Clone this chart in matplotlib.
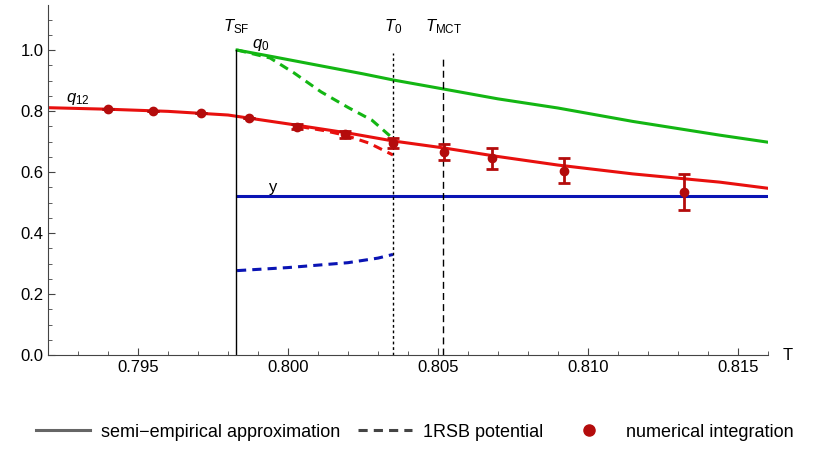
import matplotlib.pyplot as plt
import numpy as np
from matplotlib.lines import Line2D

plt.rcParams['font.family'] = 'Liberation Sans'
plt.rcParams['mathtext.fontset'] = 'custom'
plt.rcParams['mathtext.rm'] = 'Liberation Sans'
plt.rcParams['mathtext.it'] = 'Liberation Sans:italic'

# data
T_SF, T_0, T_MCT = 0.79827, 0.8035, 0.80518

q12_T = [0.792, 0.794, 0.796, 0.798, 0.800, 0.802, 0.8035, 0.8052, 0.807, 0.809, 0.8115, 0.8144, 0.816]
q12_v = [0.811, 0.806, 0.799, 0.787, 0.758, 0.728, 0.702, 0.679, 0.651, 0.623, 0.594, 0.567, 0.547]

q12_rsb_T = [0.8004, 0.8012, 0.8019, 0.8027, 0.8035]
q12_rsb_v = [0.749, 0.736, 0.721, 0.695, 0.656]

q0_T = [0.7983, 0.7995, 0.801, 0.8025, 0.8035, 0.8052, 0.807, 0.809, 0.8115, 0.8144, 0.816]
q0_v = [1.000, 0.978, 0.950, 0.922, 0.902, 0.872, 0.840, 0.810, 0.766, 0.721, 0.698]

q0_rsb_T = [0.7983, 0.7994, 0.8002, 0.8011, 0.8020, 0.8028, 0.8035]
q0_rsb_v = [1.000, 0.974, 0.925, 0.863, 0.812, 0.770, 0.710]

y_T = [0.7983, 0.816]
y_v = [0.523, 0.523]

y_rsb_T = [0.7983, 0.800, 0.802, 0.803, 0.8035]
y_rsb_v = [0.277, 0.287, 0.303, 0.318, 0.330]

pts_T = [0.7940, 0.7955, 0.7971, 0.7987, 0.8003, 0.8019, 0.8035, 0.8052, 0.8068, 0.8092, 0.8132]
pts_v = [0.806, 0.800, 0.793, 0.776, 0.749, 0.724, 0.695, 0.667, 0.645, 0.604, 0.535]
pts_e = [0.0, 0.0, 0.0, 0.0, 0.008, 0.011, 0.016, 0.026, 0.034, 0.041, 0.059]

red, green, blue, dred = '#e8100e', '#13b613', '#0a14b4', '#b40c0c'

fig = plt.figure(figsize=(8.3, 4.71), dpi=100)
ax = fig.add_axes([0.058, 0.246, 0.867, 0.743])

ax.plot(q0_T, q0_v, color=green, lw=2.2)
ax.plot(q0_rsb_T, q0_rsb_v, color=green, lw=2.2, ls=(0, (3, 2)))
ax.plot(q12_T, q12_v, color=red, lw=2.2)
ax.plot(q12_rsb_T, q12_rsb_v, color=red, lw=2.2, ls=(0, (3, 2)))
ax.plot(y_T, y_v, color=blue, lw=2.2)
ax.plot(y_rsb_T, y_rsb_v, color=blue, lw=2.2, ls=(0, (3, 2)))
ax.errorbar(pts_T, pts_v, yerr=pts_e, fmt='o', color=dred, ms=6, capsize=4, elinewidth=2, capthick=2, zorder=5)

ax.plot([T_SF, T_SF], [0, 1.0], color='black', lw=1)
ax.plot([T_0, T_0], [0, 0.99], color='black', lw=1, ls=(0, (2, 2)))
ax.plot([T_MCT, T_MCT], [0, 0.97], color='black', lw=1, ls=(0, (5, 3)))

ax.text(T_SF, 1.045, r'$T_{\rm SF}$', ha='center', va='bottom', fontsize=12)
ax.text(T_0, 1.045, r'$T_0$', ha='center', va='bottom', fontsize=12)
ax.text(T_MCT, 1.045, r'$T_{\rm MCT}$', ha='center', va='bottom', fontsize=12)
ax.text(0.7991, 0.99, r'$q_0$', ha='center', va='bottom', fontsize=12)
ax.text(0.7930, 0.812, r'$q_{12}$', ha='center', va='bottom', fontsize=12)
ax.text(0.7995, 0.526, 'y', ha='center', va='bottom', fontsize=12)
ax.text(0.8165, 0.0, 'T', ha='left', va='center', fontsize=12, clip_on=False)

ax.set_xlim(0.792, 0.816)
ax.set_ylim(0, 1.147)
ax.set_xticks([0.795, 0.800, 0.805, 0.810, 0.815])
ax.set_xticklabels(['0.795', '0.800', '0.805', '0.810', '0.815'])
ax.set_xticks(np.arange(0.793, 0.8161, 0.001), minor=True)
ax.set_yticks([0, 0.2, 0.4, 0.6, 0.8, 1.0])
ax.set_yticklabels(['0.0', '0.2', '0.4', '0.6', '0.8', '1.0'])
ax.set_yticks(np.arange(0.05, 1.15, 0.05), minor=True)
ax.tick_params(direction='in', labelsize=12, length=5, color='#444444')
ax.tick_params(which='minor', direction='in', length=3, color='#444444')
for s in ['top', 'right']:
    ax.spines[s].set_visible(False)
for s in ['left', 'bottom']:
    ax.spines[s].set_color('#444444')

handles = [Line2D([], [], color='#666666', lw=2.2),
           Line2D([], [], color='#444444', lw=2.2, ls=(0, (3, 2))),
           Line2D([], [], color=dred, marker='o', ls='none', ms=8)]
fig.legend(handles, ['semi\u2212empirical approximation', '1RSB potential', 'numerical integration'],
           loc='lower center', bbox_to_anchor=(0.5, 0.03), ncol=3, frameon=False,
           fontsize=13, handlelength=3.0, handletextpad=0.6, columnspacing=1.0)

fig.savefig('out.png', dpi=100)
